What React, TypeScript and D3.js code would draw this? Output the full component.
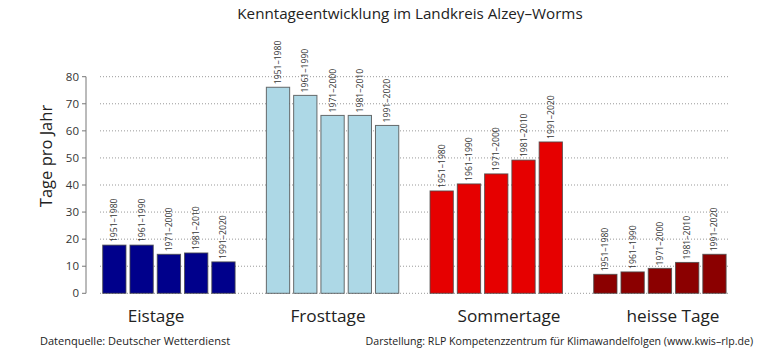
import React from "react";
import * as d3 from "d3";

const groups = ["Eistage", "Frosttage", "Sommertage", "heisse Tage"];
const periods = ["1951–1980", "1961–1990", "1971–2000", "1981–2010", "1991–2020"];
const eistage = [17.8, 17.8, 14.4, 14.9, 11.6];
const frosttage = [76.1, 73.1, 65.7, 65.7, 62.0];
const sommertage = [37.8, 40.4, 44.1, 49.2, 55.9];
const heisseTage = [7.0, 7.9, 9.2, 11.4, 14.4];
const seriesValues = [eistage, frosttage, sommertage, heisseTage];
const colors = ["#00008B", "#ADD8E6", "#E60000", "#8B0000"];
const yTicks = [0, 10, 20, 30, 40, 50, 60, 70, 80];
const groupLabelX = [156, 328, 509, 673];

const FONT = "'Open Sans', 'Noto Sans', sans-serif";

export default function App() {
  const W = 780, H = 350;
  const y = d3.scaleLinear().domain([0, 80]).range([293.3, 76.7]);
  // slots: 5 bars + 1 spacer per group
  const slots: string[] = [];
  groups.forEach((g, gi) => {
    periods.forEach((p) => slots.push(`${g}|${p}`));
    if (gi < groups.length - 1) slots.push(`gap${gi}`);
  });
  const x = d3.scaleBand<string>().domain(slots).range([102.7 - 2, 726.1 + 2]).paddingInner(0.146).paddingOuter(0.073);
  const bw = x.bandwidth();

  return (
    <svg width={W} height={H} style={{ position: "absolute", left: 0, top: 0, background: "#fff" }} fontFamily={FONT}>
      <text x={410} y={19} textAnchor="middle" fontSize={15.2} fill="#222">
        Kenntageentwicklung im Landkreis Alzey–Worms
      </text>
      {yTicks.map((t) => (
        <line key={`g${t}`} x1={100} x2={728} y1={y(t)} y2={y(t)} stroke="#999" strokeWidth={1} strokeDasharray="1,2" />
      ))}
      <line x1={86} x2={86} y1={y(0)} y2={y(80)} stroke="#777" />
      {yTicks.map((t) => (
        <g key={`t${t}`}>
          <line x1={82} x2={86} y1={y(t)} y2={y(t)} stroke="#777" />
          <text x={79} y={y(t)} dy="0.35em" textAnchor="end" fontSize={11.5} fill="#333">{t}</text>
        </g>
      ))}
      <text transform={`translate(52,156) rotate(-90)`} textAnchor="middle" fontSize={16.5} fill="#222">
        Tage pro Jahr
      </text>
      {seriesValues.map((vals, gi) =>
        vals.map((v, i) => {
          const key = `${groups[gi]}|${periods[i]}`;
          const bx = x(key)!;
          return (
            <g key={key}>
              <rect x={bx} y={y(v)} width={bw} height={y(0) - y(v)} fill={colors[gi]} stroke="#4a4a4a" strokeOpacity={0.8} strokeWidth={1} />
              <text transform={`translate(${bx + bw / 2},${y(v) - 3}) rotate(-90)`} dy="0.35em" fontSize={8.6} fill="#333">
                {periods[i]}
              </text>
            </g>
          );
        })
      )}
      {groups.map((g, gi) => (
        <text key={g} x={groupLabelX[gi]} y={322} textAnchor="middle" fontSize={17.2} fill="#222">{g}</text>
      ))}
      <text x={40} y={345} fontSize={11} fill="#222">Datenquelle: Deutscher Wetterdienst</text>
      <text x={753} y={345} textAnchor="end" fontSize={10.6} fill="#222">
        Darstellung: RLP Kompetenzzentrum für Klimawandelfolgen (www.kwis–rlp.de)
      </text>
    </svg>
  );
}
